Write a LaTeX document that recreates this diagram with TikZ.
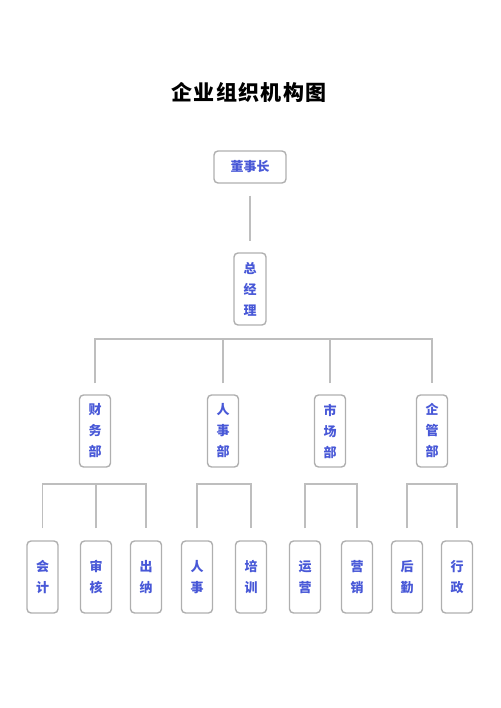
\documentclass[tikz,border=0pt]{standalone}
\usepackage{fontspec}
\newfontfamily\cjk{Noto Sans CJK SC}
\usetikzlibrary{calc}
\definecolor{boxline}{RGB}{175,175,175}
\definecolor{connline}{RGB}{190,190,190}
\definecolor{txtblue}{RGB}{72,88,215}
\begin{document}
\begin{tikzpicture}[x=1pt,y=-1pt,
  box/.style={draw=boxline, line width=1.4pt, rounded corners=4pt, inner sep=0pt,
    text=txtblue, align=center, font=\cjk\bfseries\fontsize{13}{21}\selectfont},
  vbox/.style={box, minimum width=31pt, minimum height=72pt},
  conn/.style={draw=connline, line width=1.5pt}]
\useasboundingbox (0,0) rectangle (500,708);
\node[font=\cjk\bfseries\fontsize{21}{24}\selectfont] (title) at (249,92)
  {企\hspace{1.4pt}业\hspace{1.4pt}组\hspace{1.4pt}织\hspace{1.4pt}机\hspace{1.4pt}构\hspace{1.4pt}图};
\node[box, minimum width=72pt, minimum height=32pt] (ceo) at (250,167) {董事长};
\node[vbox, minimum width=32pt] (gm) at (250,289) {总\\经\\理};
% departments
\node[vbox] (d1) at (95,431) {财\\务\\部};
\node[vbox] (d2) at (223,431) {人\\事\\部};
\node[vbox] (d3) at (330,431) {市\\场\\部};
\node[vbox] (d4) at (432,431) {企\\管\\部};
% leaves
\node[vbox] (l1) at (42.5,577) {会\\计};
\node[vbox] (l2) at (96,577) {审\\核};
\node[vbox] (l3) at (146,577) {出\\纳};
\node[vbox] (l4) at (197,577) {人\\事};
\node[vbox] (l5) at (251,577) {培\\训};
\node[vbox] (l6) at (305,577) {运\\营};
\node[vbox] (l7) at (357,577) {营\\销};
\node[vbox] (l8) at (407,577) {后\\勤};
\node[vbox] (l9) at (457,577) {行\\政};
% connectors
\coordinate (barA) at (0,339);
\coordinate (barB) at (0,484);
\draw[conn] ($(ceo.south)+(0,12)$) -- ($(gm.north)+(0,-11)$);
\draw[conn] ($(d1.north)+(0,-11)$) -- (d1.north |- barA) -- (d4.north |- barA) -- ($(d4.north)+(0,-11)$);
\draw[conn] ($(d2.north)+(0,-11)$) -- (d2.north |- barA);
\draw[conn] ($(d3.north)+(0,-11)$) -- (d3.north |- barA);
\draw[conn] ($(l1.north)+(0,-12)$) -- (l1.north |- barB) -- (l3.north |- barB) -- ($(l3.north)+(0,-12)$);
\draw[conn] ($(l2.north)+(0,-12)$) -- (l2.north |- barB);
\draw[conn] ($(l4.north)+(0,-12)$) -- (l4.north |- barB) -- (l5.north |- barB) -- ($(l5.north)+(0,-12)$);
\draw[conn] ($(l6.north)+(0,-12)$) -- (l6.north |- barB) -- (l7.north |- barB) -- ($(l7.north)+(0,-12)$);
\draw[conn] ($(l8.north)+(0,-12)$) -- (l8.north |- barB) -- (l9.north |- barB) -- ($(l9.north)+(0,-12)$);
\end{tikzpicture}
\end{document}
